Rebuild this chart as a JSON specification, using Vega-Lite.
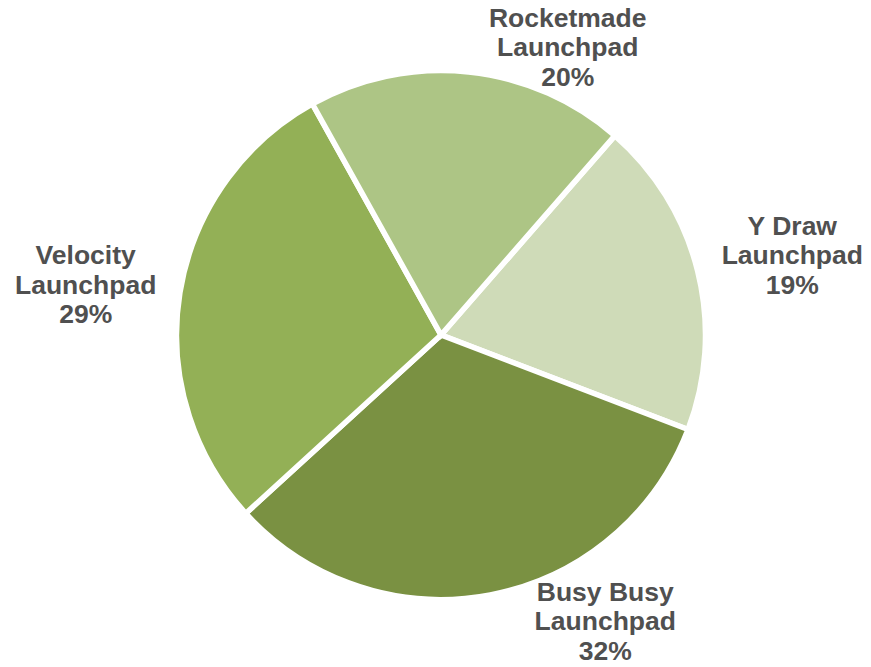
{
  "$schema": "https://vega.github.io/schema/vega-lite/v6.json",
  "width": 860,
  "height": 662,
  "autosize": "none",
  "padding": {"left": 11, "top": 4, "right": 0, "bottom": 0},
  "background": "white",
  "view": {"stroke": null},
  "data": {
    "values": [
      {"category": "Y Draw Launchpad", "value": 19.4},
      {"category": "Busy Busy Launchpad", "value": 32.4},
      {"category": "Velocity Launchpad", "value": 28.7},
      {"category": "Rocketmade Launchpad", "value": 19.5}
    ]
  },
  "transform": [
    {"window": [{"op": "row_number", "as": "idx"}]},
    {"calculate": "replace(datum.category, ' Launchpad', '\\nLaunchpad') + '\\n' + round(datum.value) + '%'", "as": "label"}
  ],
  "encoding": {
    "theta": {
      "field": "value",
      "type": "quantitative",
      "stack": true,
      "scale": {"range": [0.7173, 7.0005]}
    },
    "order": {"field": "idx", "type": "quantitative"}
  },
  "layer": [
    {
      "mark": {"type": "arc", "outerRadius": 264.5, "stroke": "white", "strokeWidth": 5.5},
      "encoding": {
        "color": {
          "field": "category",
          "type": "nominal",
          "scale": {
            "domain": ["Y Draw Launchpad", "Busy Busy Launchpad", "Velocity Launchpad", "Rocketmade Launchpad"],
            "range": ["#cfdbb8", "#7a9142", "#93b056", "#adc585"]
          },
          "legend": null
        }
      }
    },
    {
      "mark": {"type": "text", "radius": 361, "dx": 1, "dy": -21, "align": "center", "baseline": "middle", "font": "Liberation Sans", "fontWeight": "bold", "fontSize": 26.5, "lineHeight": 29.5, "lineBreak": "\n", "fill": "#505050"},
      "encoding": {
        "text": {"condition": {"test": "datum.category === 'Y Draw Launchpad' || datum.category === 'Velocity Launchpad'", "field": "label"}, "value": ""}
      }
    },
    {
      "mark": {"type": "text", "radius": 361, "dx": 89, "dy": 43, "align": "center", "baseline": "middle", "font": "Liberation Sans", "fontWeight": "bold", "fontSize": 26.5, "lineHeight": 29.5, "lineBreak": "\n", "fill": "#505050"},
      "encoding": {
        "text": {"condition": {"test": "datum.category === 'Rocketmade Launchpad'", "field": "label"}, "value": ""}
      }
    },
    {
      "mark": {"type": "text", "radius": 361, "dx": 97, "dy": -97, "align": "center", "baseline": "middle", "font": "Liberation Sans", "fontWeight": "bold", "fontSize": 26.5, "lineHeight": 29.5, "lineBreak": "\n", "fill": "#505050"},
      "encoding": {
        "text": {"condition": {"test": "datum.category === 'Busy Busy Launchpad'", "field": "label"}, "value": ""}
      }
    }
  ]
}
